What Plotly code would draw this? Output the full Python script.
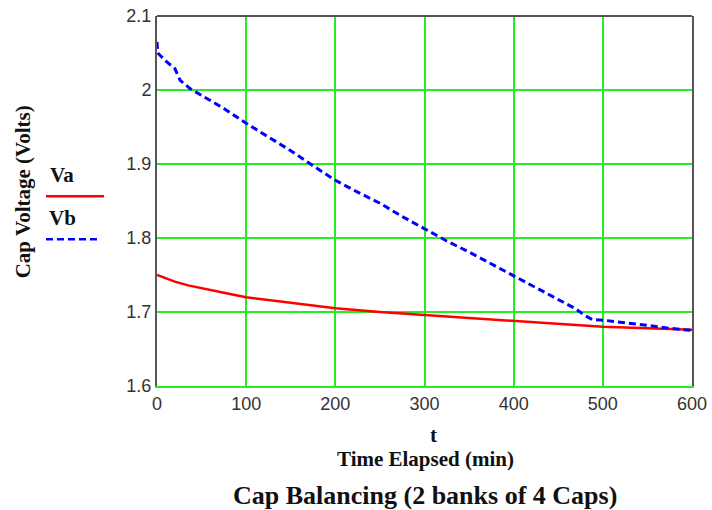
import plotly.graph_objects as go

# Data
t_a = [0, 10, 20, 35, 50, 75, 100, 125, 150, 175, 200, 250, 300, 350, 400, 450, 500, 550, 600]
va = [1.750, 1.745, 1.741, 1.736, 1.732, 1.726, 1.720, 1.716, 1.712, 1.708, 1.705, 1.700,
      1.696, 1.691, 1.687, 1.683, 1.680, 1.678, 1.676]

t_b = [0, 1, 5, 11, 20, 26, 37, 50, 75, 100, 125, 150, 172, 200, 225, 250, 275, 300, 325,
       350, 375, 400, 425, 450, 470, 480, 488, 500, 525, 550, 575, 600]
vb = [2.065, 2.050, 2.045, 2.038, 2.029, 2.013, 2.002, 1.993, 1.975, 1.955, 1.937, 1.918,
      1.900, 1.878, 1.862, 1.847, 1.829, 1.812, 1.796, 1.781, 1.765, 1.748, 1.733, 1.717,
      1.704, 1.695, 1.690, 1.689, 1.686, 1.682, 1.678, 1.675]

x_ticks = [0, 100, 200, 300, 400, 500, 600]
y_ticks = [1.6, 1.7, 1.8, 1.9, 2.0, 2.1]
y_tick_text = ["1.6", "1.7", "1.8", "1.9", "2", "2.1"]

GRID = "#22ee22"
FRAME = "#555555"

fig = go.Figure()
fig.add_trace(go.Scatter(x=t_a, y=va, mode="lines", name="Va",
                         line=dict(color="#ff0000", width=2.5)))
fig.add_trace(go.Scatter(x=t_b, y=vb, mode="lines", name="Vb",
                         line=dict(color="#0000ff", width=3, dash="7px,4px")))

L, R, T, B = 157, 20, 15.7, 124.3
W, H = 712, 510
pw, ph = W - L - R, H - T - B


def px(x):
    return (x - L) / pw


def py(y):
    return (H - B - y) / ph


tickfont = dict(family="Liberation Sans", size=18, color="#333333")
fig.update_layout(
    width=W, height=H,
    margin=dict(l=L, r=R, t=T, b=B, autoexpand=False),
    paper_bgcolor="white", plot_bgcolor="white",
    showlegend=False,
    font=dict(family="Liberation Sans", size=18, color="#222222"),
    xaxis=dict(range=[0, 600], tickvals=x_ticks, showgrid=True, gridcolor=GRID,
               gridwidth=1.5, showline=True, linecolor=GRID, linewidth=2,
               zeroline=False, ticks="", ticklen=0, automargin=False,
               tickfont=tickfont),
    yaxis=dict(range=[1.6, 2.1], tickvals=y_ticks, ticktext=y_tick_text, showgrid=True,
               gridcolor=GRID, gridwidth=1.5, showline=True, linecolor=FRAME, linewidth=2,
               mirror=True, zeroline=False, ticks="", ticklen=0, automargin=False,
               tickfont=tickfont),
)

# top frame line
fig.add_shape(type="line", xref="paper", yref="paper", x0=0, x1=1, y0=1, y1=1,
              line=dict(color=FRAME, width=2))

serif = "Liberation Serif"
ink = "#111111"


def label(text, x, y, size, angle=0):
    fig.add_annotation(text=text, xref="paper", yref="paper", x=px(x), y=py(y),
                       xanchor="center", yanchor="middle", textangle=angle,
                       borderpad=0, showarrow=False,
                       font=dict(family=serif, size=size, color=ink))


label("<b>Cap Voltage (Volts)</b>", 23, 192, 21, angle=-90)
label("<b>t</b>", 433, 435, 21)
label("<b>Time Elapsed (min)</b>", 425, 459, 21)
label("<b>Cap Balancing (2 banks of 4 Caps)</b>", 425, 495, 26)

# legend (text above line samples)
label("<b>Va</b>", 62, 175, 21)
fig.add_shape(type="line", xref="paper", yref="paper", x0=px(46), x1=px(104),
              y0=py(196), y1=py(196), line=dict(color="#ff0000", width=2.5))
label("<b>Vb</b>", 62, 218, 21)
fig.add_shape(type="line", xref="paper", yref="paper", x0=px(46), x1=px(99),
              y0=py(239), y1=py(239), line=dict(color="#0000ff", width=2.5, dash="7px,4px"))

fig.write_html("out.html")
